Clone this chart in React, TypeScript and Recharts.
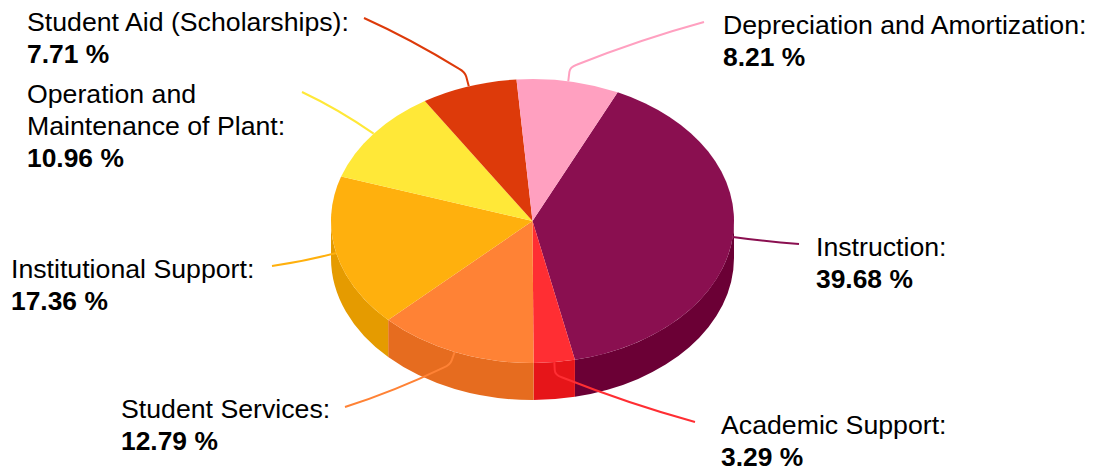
import { Pie, PieChart } from "recharts";

const categories = [
  ["Instruction:"],
  ["Academic Support:"],
  ["Student Services:"],
  ["Institutional Support:"],
  ["Operation and", "Maintenance of Plant:"],
  ["Student Aid (Scholarships):"],
  ["Depreciation and Amortization:"],
];
const shares = [39.68, 3.29, 12.79, 17.36, 10.96, 7.71, 8.21];
const topColors = ["#8a0f50", "#ff2e33", "#ff8235", "#ffb00d", "#ffe838", "#dd3a0a", "#ffa0c0"];
const wallColors = ["#6b0035", "#e61519", "#e66c1f", "#e59b00", "#e6cf20", "#c43000", "#e68aa8"];

// where each caption sits, and the leader's bend, end point and bow
const captions = [
  { x: 816, y: 256, bend: null, end: [799, 244], bow: 1 },
  { x: 721, y: 434, bend: [555, 375], end: [695, 422], bow: 4 },
  { x: 121, y: 418, bend: [450, 365], end: [345, 407], bow: 4 },
  { x: 11, y: 278, bend: null, end: [272, 266], bow: 2 },
  { x: 27, y: 103, bend: null, end: [302, 92], bow: -4 },
  { x: 27, y: 31, bend: [465, 72], end: [364, 18], bow: -4 },
  { x: 723, y: 34, bend: [570, 67], end: [704, 22], bow: -4 },
];

const tableData = categories.map((lines, i) => ({
  name: lines.join(" "),
  value: shares[i],
  fill: topColors[i],
  wall: wallColors[i],
}));

const WIDTH = 1093;
const HEIGHT = 471;
const CX = 532.5;
const CY = 221;
const RADIUS = 201.5;
const SQUASH = 142 / 201.5;
const DEPTH = 37;
const FONT = "'Liberation Sans', Arial, sans-serif";

const rimPoint = (cx: number, cy: number, r: number, deg: number) => {
  const a = (deg * Math.PI) / 180;
  return [cx + r * Math.cos(a), cy - r * SQUASH * Math.sin(a)];
};

// point a few px from p in the direction of q
const towards = (p: number[], q: number[], dist: number) => {
  const len = Math.hypot(q[0] - p[0], q[1] - p[1]) || 1;
  return [p[0] + ((q[0] - p[0]) / len) * dist, p[1] + ((q[1] - p[1]) / len) * dist];
};

// flat top of a slice, squashed into an ellipse
function TopFace(props: any) {
  const { cx, cy, outerRadius: r, startAngle, endAngle, fill } = props;
  const [x0, y0] = rimPoint(cx, cy, r, startAngle);
  const [x1, y1] = rimPoint(cx, cy, r, endAngle);
  const large = Math.abs(startAngle - endAngle) > 180 ? 1 : 0;
  return (
    <path
      d={`M${cx},${cy} L${x0},${y0} A${r},${r * SQUASH} 0 ${large} 1 ${x1},${y1} Z`}
      fill={fill}
    />
  );
}

// side wall, only the part of the slice that faces the viewer
function Wall(props: any) {
  const { cx, cy, outerRadius: r, startAngle, endAngle, payload, wall } = props;
  const from = Math.min(startAngle, 0);
  const to = Math.max(endAngle, -180);
  if (from <= to) return null;
  const [x0, y0] = rimPoint(cx, cy, r, from);
  const [x1, y1] = rimPoint(cx, cy, r, to);
  const ry = r * SQUASH;
  return (
    <path
      d={`M${x0},${y0} A${r},${ry} 0 0 1 ${x1},${y1} L${x1},${y1 + DEPTH} A${r},${ry} 0 0 0 ${x0},${y0 + DEPTH} Z`}
      fill={wall ?? payload?.wall}
    />
  );
}

function Caption(props: any) {
  const { cx, cy, outerRadius: r, midAngle, index } = props;
  const c = captions[index];
  const lines = categories[index];
  const start = rimPoint(cx, cy, r, midAngle);
  let d = `M${start[0]},${start[1]}`;
  let from = start;
  if (c.bend) {
    const a = towards(c.bend, start, 5);
    const b = towards(c.bend, c.end, 7);
    d += ` L${a[0]},${a[1]} Q${c.bend[0]},${c.bend[1]} ${b[0]},${b[1]}`;
    from = b;
  }
  d += ` Q${(from[0] + c.end[0]) / 2},${(from[1] + c.end[1]) / 2 + c.bow} ${c.end[0]},${c.end[1]}`;
  return (
    <g>
      <path d={d} fill="none" stroke={topColors[index]} strokeWidth={2} />
      <text fontFamily={FONT} fontSize={26.7} fill="#000">
        {lines.map((line, i) => (
          <tspan key={line} x={c.x} y={c.y + i * 32}>
            {line}
          </tspan>
        ))}
        <tspan x={c.x} y={c.y + lines.length * 32} fontSize={26.4} fontWeight="bold">
          {shares[index].toFixed(2)} %
        </tspan>
      </text>
    </g>
  );
}

export default function App() {
  return (
    <div style={{ position: "absolute", left: 0, top: 0, width: WIDTH, height: HEIGHT }}>
      <PieChart width={WIDTH} height={HEIGHT} margin={{ top: 0, right: 0, bottom: 0, left: 0 }}>
        <Pie
          data={tableData}
          dataKey="value"
          nameKey="name"
          cx={CX}
          cy={CY}
          outerRadius={RADIUS}
          startAngle={65}
          endAngle={-295}
          stroke="none"
          shape={Wall}
          isAnimationActive={false}
        />
        <Pie
          data={tableData}
          dataKey="value"
          nameKey="name"
          cx={CX}
          cy={CY}
          outerRadius={RADIUS}
          startAngle={65}
          endAngle={-295}
          stroke="none"
          shape={TopFace}
          label={Caption}
          labelLine={false}
          isAnimationActive={false}
        />
      </PieChart>
    </div>
  );
}
